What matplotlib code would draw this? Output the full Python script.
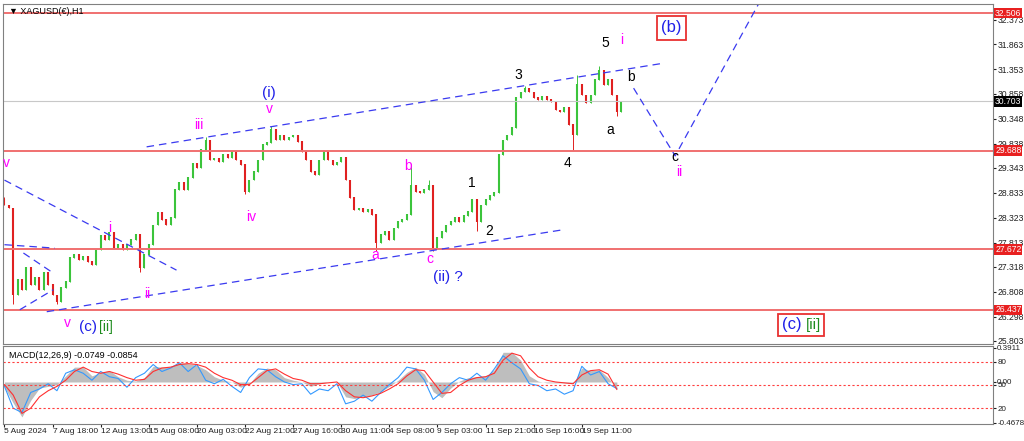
import matplotlib
matplotlib.use("Agg")
import matplotlib.pyplot as plt
from matplotlib.offsetbox import TextArea, HPacker, AnnotationBbox

# XAGUSD(€) H1 closes, read every 6 bars off the chart
bar_step = 6
first_open = 28.70
closes = [
    28.58, 28.52, 26.74, 27.05, 26.85, 27.30, 26.95, 27.09, 26.85, 27.21,
    26.95, 26.74, 26.60, 26.89, 27.01, 27.50, 27.56, 27.46, 27.52, 27.42,
    27.36, 27.66, 27.95, 27.87, 28.01, 27.70, 27.77, 27.66, 27.77, 27.87,
    27.97, 27.30, 27.56, 27.77, 28.17, 28.42, 28.28, 28.17, 28.32, 28.89,
    29.05, 28.89, 29.14, 29.44, 29.34, 29.71, 29.91, 29.50, 29.54, 29.46,
    29.61, 29.54, 29.67, 29.50, 29.40, 28.85, 29.09, 29.26, 29.50, 29.81,
    29.85, 30.12, 29.91, 30.01, 29.91, 29.97, 30.01, 29.87, 29.67, 29.50,
    29.26, 29.20, 29.50, 29.67, 29.50, 29.40, 29.46, 29.56, 29.09, 28.73,
    28.48, 28.52, 28.44, 28.48, 28.38, 27.81, 27.97, 28.03, 27.87, 28.11,
    28.24, 28.28, 28.38, 28.99, 28.85, 28.83, 28.89, 28.99, 27.70, 27.91,
    28.03, 28.17, 28.24, 28.32, 28.24, 28.36, 28.44, 28.69, 28.24, 28.58,
    28.69, 28.77, 28.83, 29.61, 29.91, 30.01, 30.16, 30.77, 30.89, 30.97,
    30.89, 30.77, 30.73, 30.79, 30.73, 30.69, 30.52, 30.48, 30.57, 30.22,
    30.01, 31.04, 30.83, 30.67, 30.83, 31.14, 31.34, 31.04, 31.14, 30.83,
    30.48, 30.70,
]
# only the wicks that stick out visibly
wick_highs = {0: 28.75, 46: 29.98, 61: 30.20, 93: 29.42, 97: 29.10,
              119: 31.02, 131: 31.24, 136: 31.42}
wick_lows = {2: 26.55, 12: 26.55, 31: 27.22, 55: 28.80, 85: 27.65,
             98: 27.64, 108: 28.05, 130: 29.70, 140: 30.40}

red_levels = [32.506, 29.688, 27.672, 26.437]
last_price = 30.703
price_ticks = [32.373, 31.863, 31.353, 30.858, 30.348, 29.838, 29.343,
               28.833, 28.323, 27.813, 27.318, 26.808, 26.298, 25.803]

# MACD(12,26,9) panel, read every 12 bars
macd_step = 12
macd_main = [
    -0.06, -0.24, -0.40, -0.21, -0.07, -0.05, -0.03, 0.07, 0.17, 0.17,
    0.07, 0.11, 0.13, 0.06, 0.02, 0.01, 0.05, 0.18, 0.17, 0.17,
    0.22, 0.21, 0.19, 0.14, 0.06, 0.02, 0.00, -0.06, -0.02, 0.10,
    0.16, 0.14, 0.05, 0.02, 0.00, -0.05, -0.02, 0.00, 0.00, -0.17,
    -0.19, -0.17, -0.15, -0.11, -0.05, 0.02, 0.11, 0.17, 0.09, -0.11,
    -0.18, -0.07, 0.01, 0.05, 0.06, 0.07, 0.14, 0.34, 0.34, 0.25,
    0.07, 0.01, -0.01, -0.01, -0.01, -0.02, 0.16, 0.13, 0.14, 0.05,
    -0.075,
]
macd_signal = [
    -0.03, -0.15, -0.36, -0.30, -0.17, -0.10, -0.05, 0.02, 0.12, 0.17,
    0.12, 0.10, 0.12, 0.09, 0.05, 0.02, 0.03, 0.12, 0.16, 0.17,
    0.20, 0.21, 0.20, 0.17, 0.10, 0.05, 0.02, -0.03, -0.03, 0.05,
    0.13, 0.15, 0.09, 0.04, 0.02, -0.02, -0.02, -0.01, 0.00, -0.10,
    -0.17, -0.18, -0.16, -0.13, -0.08, -0.02, 0.07, 0.14, 0.13, 0.00,
    -0.13, -0.12, -0.04, 0.02, 0.05, 0.06, 0.10, 0.25, 0.33, 0.30,
    0.16, 0.06, 0.02, 0.00, -0.01, -0.02, 0.08, 0.13, 0.14, 0.09,
    -0.085,
]
osc_line = [
    -0.05, -0.30, -0.35, -0.12, -0.08, -0.02, -0.10, 0.10, 0.14, 0.10,
    0.02, 0.12, 0.06, 0.04, -0.06, 0.05, 0.10, 0.20, 0.12, 0.16,
    0.22, 0.12, 0.20, 0.02, -0.02, 0.03, -0.05, -0.12, 0.05, 0.15,
    0.14, 0.06, 0.00, -0.03, -0.02, -0.14, -0.08, -0.10, -0.02, -0.25,
    -0.22, -0.15, -0.22, -0.12, -0.03, 0.05, 0.17, 0.15, 0.02, -0.20,
    -0.12, -0.02, 0.05, 0.02, 0.10, 0.02, 0.15, 0.30, 0.22, 0.15,
    -0.02, -0.04, -0.10, -0.08, -0.14, -0.10, 0.18, 0.08, 0.12, -0.02,
    -0.075,
]
macd_levels = [0.229, -0.034, -0.298]
macd_level_names = ["80", "50", "20"]
macd_ticks = [0.3911, 0.0, -0.4678]
macd_tick_names = ["0.3911", "0.00", "-0.4678"]

label_step = 66
date_labels = ["5 Aug 2024", "7 Aug 18:00", "12 Aug 13:00", "15 Aug 08:00",
               "20 Aug 03:00", "22 Aug 21:00", "27 Aug 16:00", "30 Aug 11:00",
               "4 Sep 08:00", "9 Sep 03:00", "11 Sep 21:00", "16 Sep 16:00",
               "19 Sep 11:00"]

# dashed trendlines as (hour, price) endpoints
trend_lines = [
    ((195, 29.77), (904, 31.48)),
    ((58, 26.40), (764, 28.07)),
    ((0, 29.09), (236, 27.25)),
    ((0, 27.77), (69, 27.70)),
    ((26, 27.60), (67, 27.19)),
    ((21, 26.44), (67, 26.85)),
]
projection = [(863, 30.97), (920, 29.585), (1041, 32.87)]

# wave labels: text, hour, price, colour, size
MAG, BLU, BLK = "#FF00FF", "#2020E8", "#000000"
wave_labels = [
    ("5", 824, 31.89, BLK, 10), ("i", 846, 31.95, MAG, 10),
    ("3", 705, 31.24, BLK, 10), ("b", 859, 31.20, BLK, 10),
    ("a", 831, 30.12, BLK, 10), ("4", 772, 29.44, BLK, 10),
    ("c", 920, 29.56, BLK, 10), ("ii", 926, 29.26, MAG, 10),
    ("1", 641, 29.03, BLK, 10), ("2", 665, 28.05, BLK, 10),
    ("b", 554, 29.38, MAG, 10), ("a", 509, 27.56, MAG, 10),
    ("c", 584, 27.48, MAG, 10), ("(ii) ?", 609, 27.11, BLU, 11),
    ("(i)", 363, 30.87, BLU, 11), ("v", 363, 30.55, MAG, 10),
    ("iii", 267, 30.22, MAG, 10), ("iv", 339, 28.34, MAG, 10),
    ("i", 144, 28.11, MAG, 10), ("ii", 196, 26.76, MAG, 10),
    ("v", 3, 29.44, MAG, 10), ("v", 86, 26.16, MAG, 10),
    ("(c)", 114, 26.09, BLU, 11), ("[ii]", 139, 26.09, "#1E8C1E", 10),
]

plt.rcParams["font.family"] = ["Liberation Sans", "DejaVu Sans"]
fig = plt.figure(figsize=(10.24, 4.41), dpi=100)
ax = fig.add_axes([3 / 1024, 1 - 344 / 441, 990 / 1024, 340 / 441])
axm = fig.add_axes([3 / 1024, 1 - 424 / 441, 990 / 1024, 78 / 441], sharex=ax)

# candles
opens = [first_open] + closes[:-1]
for i, (o, c) in enumerate(zip(opens, closes)):
    h = i * bar_step
    col = "#3BC43B" if c >= o else "#E02020"
    hi = wick_highs.get(i, max(o, c))
    lo = wick_lows.get(i, min(o, c))
    ax.vlines(h, lo, hi, color=col, lw=0.7)
    ax.vlines(h, min(o, c), max(o, c) + 0.01, color=col, lw=1.5)

for lvl in red_levels:
    ax.axhline(lvl, color="#F07070", lw=1.4)
ax.axhline(last_price, color="#C8C8C8", lw=0.8)

for (x0, y0), (x1, y1) in trend_lines:
    ax.plot([x0, x1], [y0, y1], color="#3A3AF0", lw=0.9, dashes=(6, 4))
ax.plot([p[0] for p in projection], [p[1] for p in projection],
        color="#3A3AF0", lw=0.9, dashes=(6, 4))

for txt, h, p, col, fs in wave_labels:
    ax.text(h, p, txt, color=col, fontsize=fs, ha="center", va="center")

ax.text(915, 32.20, "(b)", color=BLU, fontsize=12, ha="center", va="center",
        bbox=dict(facecolor="white", edgecolor="#E83030", lw=1.3, pad=3))
box = HPacker(children=[TextArea("(c)", textprops=dict(color=BLU, fontsize=12)),
                        TextArea("[ii]", textprops=dict(color="#1E8C1E", fontsize=11))],
              pad=0, sep=3, align="center")
ax.add_artist(AnnotationBbox(box, (1093, 26.13), frameon=True, pad=0.25,
                             bboxprops=dict(edgecolor="#E83030", lw=1.3)))

ax.text(0.006, 0.992, "\u25bc XAGUSD(\u20ac),H1", transform=ax.transAxes,
        fontsize=6.5, va="top", ha="left")

ax.set_xlim(-2, 1356)
ax.set_ylim(25.74, 32.69)
ax.yaxis.tick_right()
ax.set_yticks(price_ticks)
ax.set_yticklabels([f"{t:.3f}" for t in price_ticks])
ax.tick_params(axis="y", labelsize=6.2, length=2, pad=1, colors="#202020")
ax.tick_params(axis="x", bottom=False, labelbottom=False)

# price tags on the scale
for lvl in red_levels:
    ax.annotate(f"{lvl:.3f}", xy=(1.0, lvl), xycoords=("axes fraction", "data"),
                xytext=(1.5, 0), textcoords="offset points", fontsize=6.2,
                color="white", va="center", ha="left",
                bbox=dict(facecolor="#E82020", edgecolor="none", pad=0.6))
ax.annotate(f"{last_price:.3f}", xy=(1.0, last_price),
            xycoords=("axes fraction", "data"), xytext=(1.5, 0),
            textcoords="offset points", fontsize=6.2, color="white",
            va="center", ha="left",
            bbox=dict(facecolor="black", edgecolor="none", pad=0.6))

# MACD panel
mx = [j * macd_step for j in range(len(macd_main))]
axm.fill_between(mx, 0, macd_main, color="#BEBEBE", lw=0)
axm.plot(mx, osc_line, color="#3399FF", lw=0.8)
axm.plot(mx, macd_signal, color="#FF3030", lw=0.8)
for lvl in macd_levels:
    axm.axhline(lvl, color="#FF4040", lw=0.8, ls=(0, (2, 2)))
axm.set_ylim(-0.481, 0.412)
axm.yaxis.tick_right()
axm.set_yticks(macd_ticks + macd_levels)
axm.set_yticklabels(macd_tick_names + macd_level_names)
axm.tick_params(axis="y", labelsize=5.8, length=2, pad=1, colors="#202020")
axm.text(0.006, 0.93, "MACD(12,26,9) -0.0749 -0.0854", transform=axm.transAxes,
         fontsize=6.5, va="top", ha="left")

axm.set_xticks([k * label_step for k in range(len(date_labels))])
axm.set_xticklabels(date_labels, ha="left")
axm.tick_params(axis="x", labelsize=6.0, length=2, pad=1, colors="#202020")

for a in (ax, axm):
    for s in a.spines.values():
        s.set_color("#808080")
        s.set_linewidth(0.8)

fig.savefig("out.png", dpi=100)
